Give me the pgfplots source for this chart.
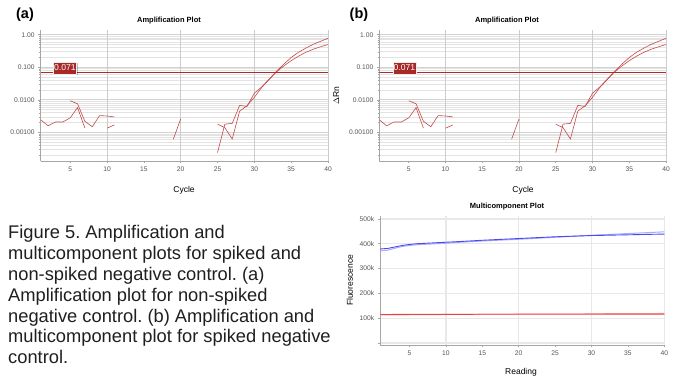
\documentclass[border=0pt]{standalone}
\usepackage{pgfplots}
\pgfplotsset{compat=1.18}
\usepackage{fontspec}
\setmainfont{Liberation Sans}
\frenchspacing
\definecolor{curve}{HTML}{C24848}
\definecolor{thr}{HTML}{B02A2A}
\definecolor{lbl}{HTML}{A82828}
\definecolor{dblue}{HTML}{4A4AEE}
\definecolor{lblue}{HTML}{AAAAFF}
\definecolor{dred}{HTML}{E84343}
\definecolor{lred}{HTML}{F5A3A3}
\definecolor{tickgray}{HTML}{555555}

\newcommand{\ampdata}{%
  \addplot[curve, line width=0.6pt, mark=none] coordinates {
    (1,0.00245)(2,0.0016)(3,0.0021)(4,0.0021)(5,0.0028)(6,0.0058)(7,0.00136)
    (8,nan)
    (10,0.00135)(11,0.0017)
    (12,nan)
    (19,0.00062)(20,0.0026)
    (21,nan)
    (25,0.00024)(26,0.0018)(27,0.0019)(28,0.0068)(29,0.0063)(30,0.016)
    (31,0.025)(32,0.043)(33,0.075)(34,0.125)(35,0.2)(36,0.29)(37,0.39)
    (38,0.51)(39,0.63)(40,0.78)
  };
  \addplot[curve, line width=0.6pt, mark=none] coordinates {
    (5,0.0094)(6,0.0076)(7,0.0022)(8,0.0015)(9,0.0033)(10,0.0032)(11,0.0030)
    (12,nan)
    (25,0.0018)(26,0.0014)(27,0.00063)(28,0.0045)(29,0.0066)(30,0.012)
    (31,0.024)(32,0.042)(33,0.072)(34,0.11)(35,0.16)(36,0.22)(37,0.29)
    (38,0.36)(39,0.43)(40,0.50)
  };
  \addplot[thr, line width=1.1pt, mark=none] coordinates {(1,0.071)(40,0.071)};
}

\newcommand{\thrlabel}[2]{%
  \fill[black, opacity=0.25] (#1-11.5+1.3,#2-6-1.3) rectangle (#1+11.5+1.3,#2+6-1.3);
  \node[fill=lbl, text=white, draw=white!85!gray, line width=0.4pt,
        font=\fontsize{8.6}{9}\selectfont, inner sep=0pt,
        minimum width=23pt, minimum height=12pt] at (#1,#2) {0.071};
}

\begin{document}
\begin{tikzpicture}[x=1pt,y=1pt]
\useasboundingbox (0,0) rectangle (676,379);

% ---------- panel (a) ----------
\begin{axis}[
    scale only axis, width=287.3pt, height=131pt,
    at={(40.7pt,218pt)}, anchor=south west,
    ymode=log, xmin=1, xmax=40, ymin=1.33e-4, ymax=1.4,
    axis x line=bottom, axis y line=left,
    axis line style={-, draw=gray!70, line width=0.6pt},
    xtick={5,10,...,40},
    extra x ticks={10,20,30,40}, extra x tick labels={},
    extra x tick style={grid=major, major grid style={draw=gray!40, line width=0.6pt}},
    ytick={0.001,0.01,0.1,1},
    yticklabels={0.00100,0.0100,0.100,1.00},
    minor ytick={2e-4,3e-4,4e-4,5e-4,6e-4,7e-4,8e-4,9e-4,
                 2e-3,3e-3,4e-3,5e-3,6e-3,7e-3,8e-3,9e-3,
                 2e-2,3e-2,4e-2,5e-2,6e-2,7e-2,8e-2,9e-2,
                 2e-1,3e-1,4e-1,5e-1,6e-1,7e-1,8e-1,9e-1},
    ymajorgrids, yminorgrids,
    major grid style={draw=gray!35, line width=0.9pt},
    minor grid style={draw=gray!22, line width=0.8pt},
    tick align=outside, major tick length=2.5pt, minor tick length=1.5pt,
    tick style={draw=gray!70, line width=0.5pt},
    tick label style={font=\fontsize{6.7}{7}\selectfont, text=tickgray},
    /pgf/number format/assume math mode=true,
    unbounded coords=jump,
]
\ampdata
\end{axis}

% ---------- panel (b) ----------
\begin{axis}[
    scale only axis, width=286.7pt, height=131pt,
    at={(379.3pt,218pt)}, anchor=south west,
    ymode=log, xmin=1, xmax=40, ymin=1.33e-4, ymax=1.4,
    axis x line=bottom, axis y line=left,
    axis line style={-, draw=gray!70, line width=0.6pt},
    xtick={5,10,...,40},
    extra x ticks={10,20,30,40}, extra x tick labels={},
    extra x tick style={grid=major, major grid style={draw=gray!40, line width=0.6pt}},
    ytick={0.001,0.01,0.1,1},
    yticklabels={0.00100,0.0100,0.100,1.00},
    minor ytick={2e-4,3e-4,4e-4,5e-4,6e-4,7e-4,8e-4,9e-4,
                 2e-3,3e-3,4e-3,5e-3,6e-3,7e-3,8e-3,9e-3,
                 2e-2,3e-2,4e-2,5e-2,6e-2,7e-2,8e-2,9e-2,
                 2e-1,3e-1,4e-1,5e-1,6e-1,7e-1,8e-1,9e-1},
    ymajorgrids, yminorgrids,
    major grid style={draw=gray!35, line width=0.9pt},
    minor grid style={draw=gray!22, line width=0.8pt},
    tick align=outside, major tick length=2.5pt, minor tick length=1.5pt,
    tick style={draw=gray!70, line width=0.5pt},
    tick label style={font=\fontsize{6.7}{7}\selectfont, text=tickgray},
    /pgf/number format/assume math mode=true,
    unbounded coords=jump,
    ylabel={$\Delta$Rn},
    ylabel style={font=\fontsize{8.5}{9}\selectfont, xshift=-0pt, yshift=3pt},
]
\ampdata
\end{axis}

\thrlabel{65}{311}
\thrlabel{404.5}{311}

% ---------- multicomponent ----------
\begin{axis}[scale only axis, width=284pt, height=129.3pt,
  at={(380.3pt,34pt)}, anchor=south west,
  xmin=1, xmax=40, ymin=-8000, ymax=513000,
  axis x line=bottom, axis y line=left,
  axis line style={-, draw=gray!70, line width=0.6pt},
  xtick={5,10,...,40},
  extra x ticks={10,20,30,40}, extra x tick labels={},
  extra x tick style={grid=major, major grid style={draw=gray!18, line width=1.4pt}},
  ytick={0,100000,200000,300000,400000,500000},
  yticklabels={{},100k,200k,300k,400k,500k},
  scaled y ticks=false,
  ymajorgrids, major grid style={draw=gray!18, line width=1.2pt},
  tick align=outside, major tick length=2.5pt,
  tick style={draw=gray!70, line width=0.5pt},
  tick label style={font=\fontsize{6.7}{7}\selectfont, text=tickgray},
  /pgf/number format/assume math mode=true,
  ylabel={Fluorescence},
  ylabel style={font=\fontsize{8.5}{9}\selectfont},
]
\addplot[lblue, line width=1pt, mark=none] coordinates {
  (1,371000)(2,374000)(3,382000)(4,389000)(5,393000)(6,396000)(8,399000)
  (10,402000)(12,406000)(15,411000)(20,418000)(25,426000)(30,434000)(35,441000)(40,448000)};
\addplot[dblue, line width=0.9pt, mark=none] coordinates {
  (1,379000)(2,381000)(3,387000)(4,393000)(5,397000)(6,400000)(8,403000)
  (10,406000)(12,409000)(15,414000)(20,421000)(25,428000)(30,433000)(35,436000)(40,439000)};
\addplot[lred, line width=1pt, mark=none] coordinates {
  (1,113000)(10,115000)(20,117000)(30,118000)(40,119000)};
\addplot[dred, line width=0.9pt, mark=none] coordinates {
  (1,115000)(10,115500)(20,116000)(30,116000)(40,116500)};
\end{axis}

% ---------- titles and labels ----------
\node[font=\bfseries\fontsize{14.5}{15}\selectfont] at (25,364) {(a)};
\node[font=\bfseries\fontsize{14.5}{15}\selectfont] at (359,364) {(b)};
\node[font=\bfseries\fontsize{7.5}{8}\selectfont] at (169,358) {Amplification Plot};
\node[font=\bfseries\fontsize{7.5}{8}\selectfont] at (507,358) {Amplification Plot};
\node[font=\fontsize{8.5}{9}\selectfont] at (184,189) {Cycle};
\node[font=\fontsize{8.5}{9}\selectfont] at (523,189) {Cycle};
\node[font=\bfseries\fontsize{7.5}{8}\selectfont] at (507,172) {Multicomponent Plot};
\node[font=\fontsize{8.5}{9}\selectfont] at (521,7) {Reading};

% ---------- caption ----------
\begin{scope}[every node/.style={anchor=base west, inner sep=0pt, font=\fontsize{18.3}{21}\selectfont, text=black!88}]
\node at (8,140) {Figure 5. Amplification and};
\node at (8,119.2) {multicomponent plots for spiked and};
\node at (8,98.4) {non-spiked negative control. (a)};
\node at (8,77.6) {Amplification plot for non-spiked};
\node at (8,56.8) {negative control. (b) Amplification and};
\node at (8,36) {multicomponent plot for spiked negative};
\node at (8,15.2) {control.};
\end{scope}
\end{tikzpicture}
\end{document}
